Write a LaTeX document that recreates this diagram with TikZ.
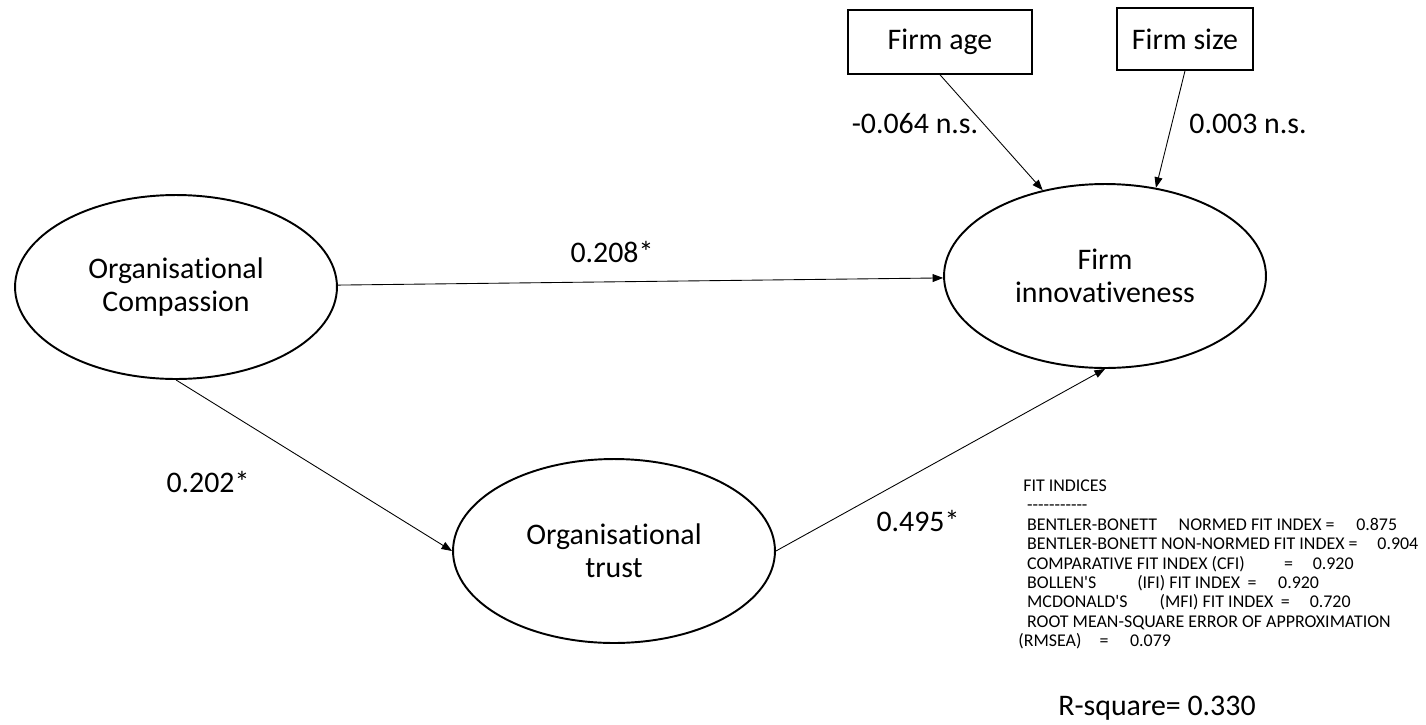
\documentclass[tikz,border=0pt]{standalone}
\usepackage{fontspec}
\setmainfont{Carlito}[Ligatures={NoCommon}]
\usetikzlibrary{calc,shapes,arrows,arrows.meta,positioning}

\begin{document}
\begin{tikzpicture}[x=0.02cm,y=-0.02cm]
\fontsize{17}{19}\selectfont
\tikzstyle{latent}=[ellipse, draw=black, line width=1.1pt, minimum width=6.44cm, minimum height=3.68cm, inner sep=0pt, align=center]
\tikzstyle{obs}=[rectangle, draw=black, line width=0.9pt, inner sep=0pt]
\tikzstyle{link}=[-{Triangle[length=6pt,width=4.5pt]}, line width=0.5pt]
\tikzstyle{coef}=[inner sep=0pt]
\useasboundingbox (0,0) rectangle (1426,724);
% constructs
\node[latent] (comp) at (176,287) {Organisational\\Compassion};
\node[latent] (trust) at (614,551) {Organisational\\trust};
\node[latent] (innov) at (1105,276) {Firm\\innovativeness};
% controls
\node[obs, minimum width=3.68cm, minimum height=1.28cm] (age) at (940,42) {Firm age};
\node[obs, minimum width=2.72cm, minimum height=1.24cm] (size) at (1185,39) {Firm size};
% paths
\path (comp) edge[link] (innov);
\path (comp.south) edge[link] (trust.west);
\path (trust.east) edge[link] (innov.south);
\path (age.south) edge[link] (innov.126);
\path (size.south) edge[link] (innov.60);
% coefficients
\node[coef] (c1) at (612,252) {0.208*};
\node[coef] (c2) at (208,482) {0.202*};
\node[coef] (c3) at (918,521) {0.495*};
\node[coef] (c4) at (915,124) {-0.064 n.s.};
\node[coef] (c5) at (1248,124) {0.003 n.s.};
% fit indices
\node[coef, anchor=north west, align=left, font=\fontsize{10.2}{11}\selectfont] (fit) at (1018,480) {%
\hspace*{2.8pt}FIT INDICES\\[-0.5pt]
\hspace*{5pt}-{}-{}-{}-{}-{}-{}-{}-{}-{}-{}-\\[0.5pt]
\hspace*{5pt}BENTLER-BONETT\hspace{10pt} NORMED FIT INDEX =\hspace{10pt} 0.875\\
\hspace*{5pt}BENTLER-BONETT NON-NORMED FIT INDEX =\hspace{9pt} 0.904\\
\hspace*{5pt}COMPARATIVE FIT INDEX (CFI)\hspace{20pt} =\hspace{9pt} 0.920\\
\hspace*{5pt}BOLLEN\textquotesingle S\hspace{21pt} (IFI) FIT INDEX\hspace{2pt} =\hspace{10pt} 0.920\\
\hspace*{5pt}MCDONALD\textquotesingle S\hspace{16pt} (MFI) FIT INDEX\hspace{2pt} =\hspace{9pt} 0.720\\
\hspace*{5pt}ROOT MEAN-SQUARE ERROR OF APPROXIMATION\\
(RMSEA)\hspace{8pt} =\hspace{10pt} 0.079};
\node[coef] (rsq) at (1157,708) {R-square= 0.330};
\end{tikzpicture}
\end{document}
